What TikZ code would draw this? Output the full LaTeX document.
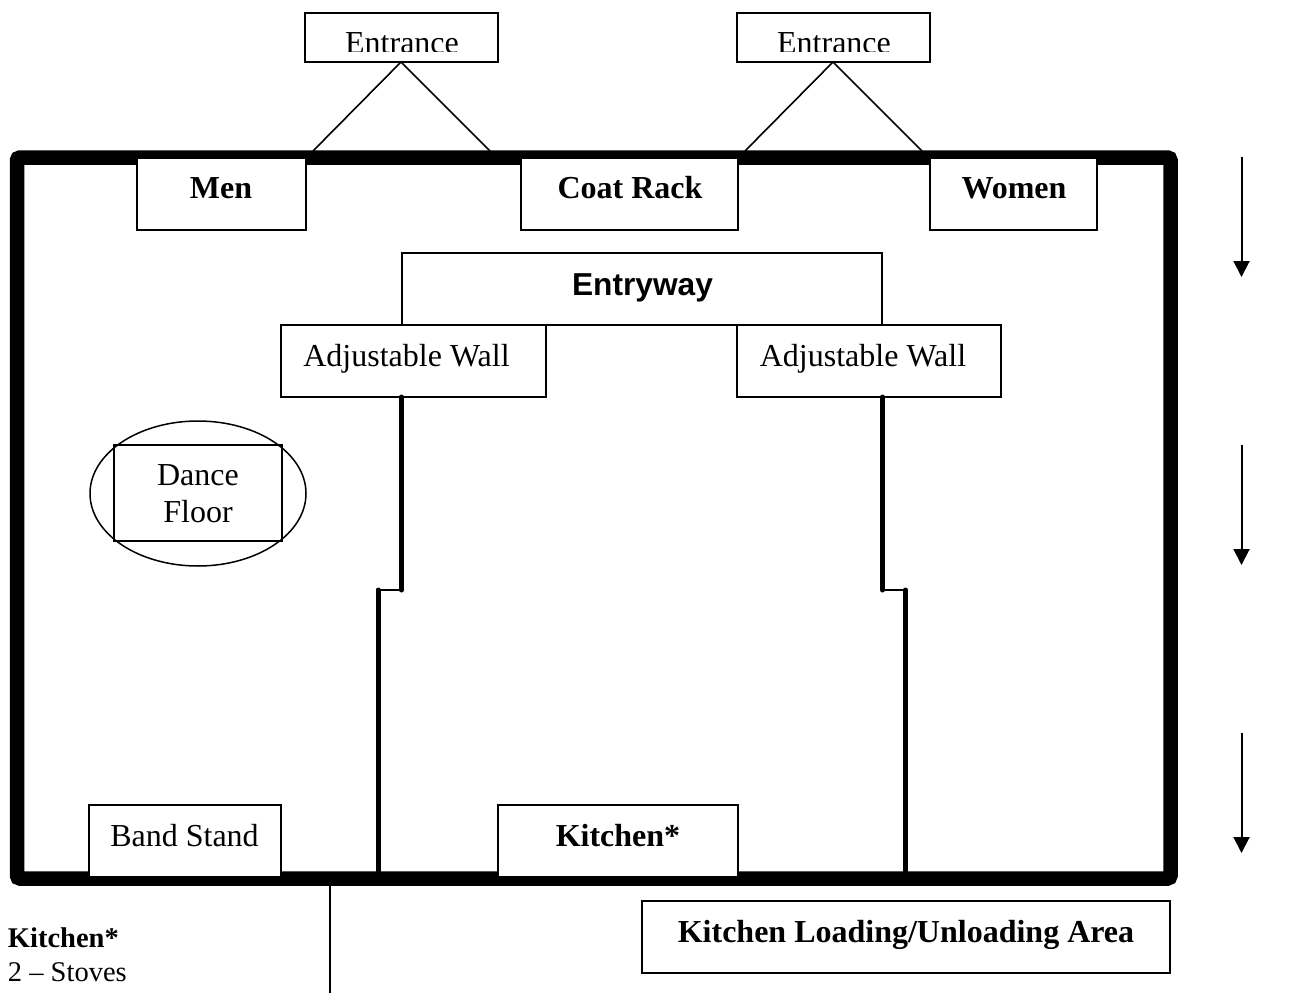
\documentclass[tikz,border=0pt]{standalone}
\usepackage{fontspec}
\setmainfont{Liberation Serif}
\newfontfamily\arialfont{Liberation Sans}
\usetikzlibrary{fit,arrows.meta,shapes.geometric}
\tikzset{
  x=1pt,y=-1pt,
  roombox/.style={draw=black,fill=white,line width=1.3pt,inner sep=0pt,outer sep=0pt},
  label big/.style={anchor=base,inner sep=0pt,outer sep=0pt,font=\fontsize{32}{36}\selectfont},
  label bold/.style={label big,font=\fontsize{32}{36}\selectfont\bfseries},
  label small/.style={anchor=base west,inner sep=0pt,outer sep=0pt,font=\fontsize{28.5}{32}\selectfont},
  thinline/.style={line width=1.6pt},
  partition/.style={line width=5pt,line cap=round},
  downarrow/.style={line width=2pt,-{Triangle[width=16pt,length=16pt]}},
}
\begin{document}
\begin{tikzpicture}
\useasboundingbox (0,0) rectangle (1304,993);
% outer wall
\node[draw=black,line width=14.5pt,rounded corners=3pt,inner sep=0pt,outer sep=0pt,fit={(17,157.5)(1170.5,878.5)}] (wall) {};
% entrance boxes
\node[roombox,fit={(305,13)(498,62)}] (entA) {};
\node[roombox,fit={(737,13)(930,62)}] (entB) {};
\begin{scope}
\clip (300,10) rectangle (940,51.5);
\node[label big] (entAt) at (402,53.5) {Entrance};
\node[label big] (entBt) at (834,53.5) {Entrance};
\end{scope}
% entrance lines
\coordinate (entAl) at (313,151);
\coordinate (entAr) at (490,151);
\coordinate (entBl) at (745,151);
\coordinate (entBr) at (922,151);
\draw[thinline] (entAl) -- (401,62) -- (entAr);
\draw[thinline] (entBl) -- (833,62) -- (entBr);
% top row
\node[roombox,fit={(137,158)(306,230)}] (men) {};
\node[roombox,fit={(521,158)(738,230)}] (coat) {};
\node[roombox,fit={(930,158)(1097,230)}] (women) {};
\node[label bold] at (221,198) {Men};
\node[label bold] at (630,198) {Coat Rack};
\node[label bold] at (1014,198) {Women};
% entryway
\node[roombox,fit={(402,253)(882,325)}] (entry) {};
\node[anchor=base,inner sep=0pt,font=\arialfont\fontsize{31.7}{36}\selectfont\bfseries] at (642.5,295) {Entryway};
\node[roombox,fit={(281,325)(546,397)}] (adjA) {};
\node[roombox,fit={(737,325)(1001,397)}] (adjB) {};
\node[label big] at (406.5,366) {Adjustable Wall};
\node[label big] at (863,366) {Adjustable Wall};
% dance floor
\node[draw=black,line width=1.5pt,ellipse,inner sep=0pt,outer sep=0pt,minimum width=216pt,minimum height=145pt] (ell) at (198,493.5) {};
\node[draw=black,line width=1.3pt,inner sep=0pt,outer sep=0pt,fit={(114,445)(282,541)}] (dance) {};
\node[label big] at (198,485) {Dance};
\node[label big] at (198,522) {Floor};
% partitions
\coordinate (pAa) at (401.5,397);
\coordinate (pAb) at (401.5,590);
\coordinate (pAc) at (378,590);
\coordinate (pAd) at (378,871);
\coordinate (pBa) at (882.5,397);
\coordinate (pBb) at (882.5,590);
\coordinate (pBc) at (905.5,590);
\coordinate (pBd) at (905.5,871);
\draw[partition] (pAa) -- (pAb);
\draw[thinline] (pAb) -- (pAc);
\draw[partition] (pAc) -- (pAd);
\draw[partition] (pBa) -- (pBb);
\draw[thinline] (pBb) -- (pBc);
\draw[partition] (pBc) -- (pBd);
% bottom row
\node[roombox,fit={(89,805)(281,877)}] (band) {};
\node[roombox,fit={(498,805)(738,877)}] (kit) {};
\node[roombox,fit={(642,901)(1170,973)}] (load) {};
\node[label big] at (184.5,846) {Band Stand};
\node[label bold] at (618,846) {Kitchen*};
\node[label bold] at (906,942) {Kitchen Loading/Unloading Area};
% notes
\node[label small,font=\fontsize{28.5}{32}\selectfont\bfseries] at (8,947) {Kitchen*};
\node[label small] at (8,981) {2 – Stoves};
\coordinate (stemA) at (330,885);
\coordinate (stemB) at (330,993);
\draw[thinline] (stemA) -- (stemB);
% arrows
\coordinate (a1) at (1241.5,157);
\coordinate (a2) at (1241.5,277);
\coordinate (b1) at (1241.5,445);
\coordinate (b2) at (1241.5,565);
\coordinate (c1) at (1241.5,733);
\coordinate (c2) at (1241.5,853);
\draw[downarrow] (a1) -- (a2);
\draw[downarrow] (b1) -- (b2);
\draw[downarrow] (c1) -- (c2);
\end{tikzpicture}
\end{document}
